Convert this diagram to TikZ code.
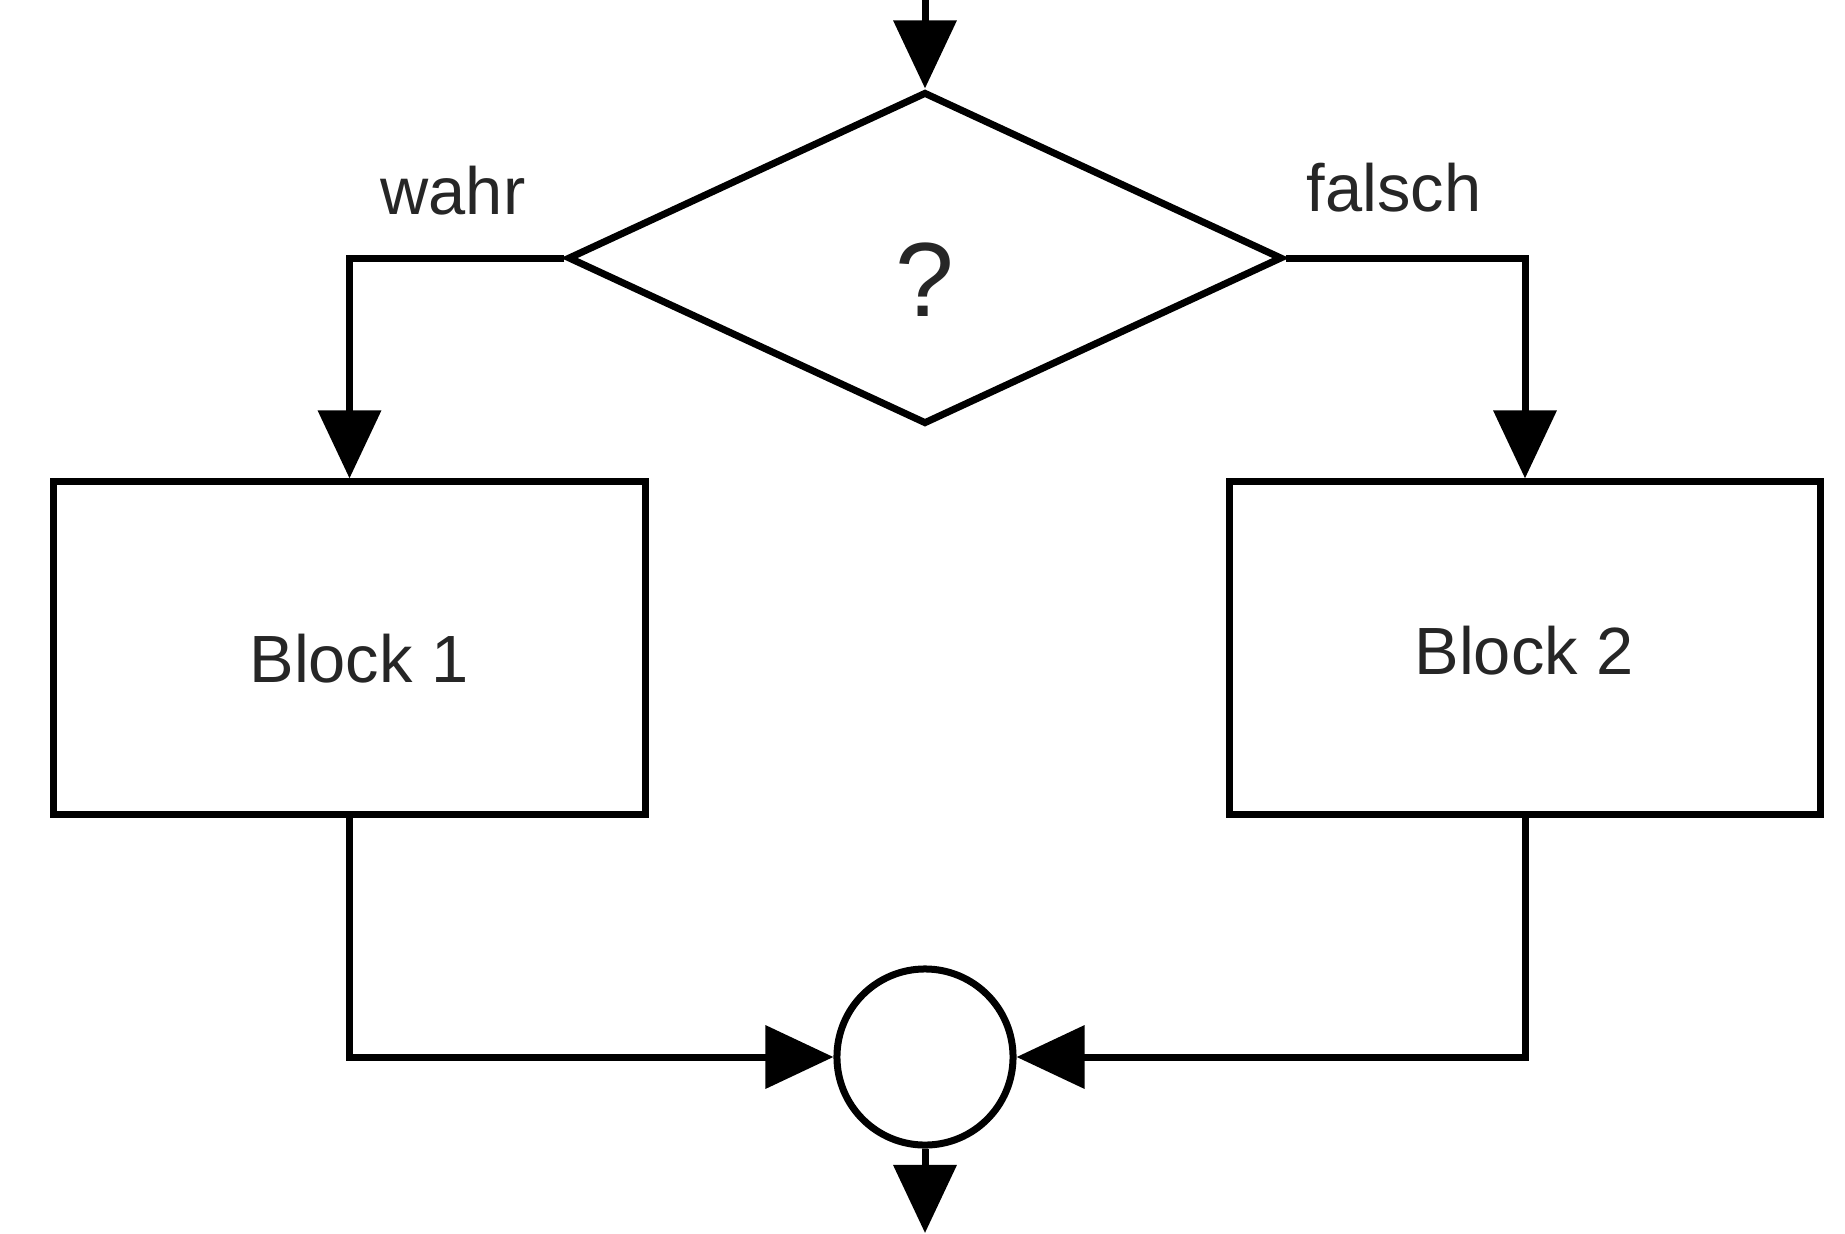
\documentclass[tikz,border=0pt]{standalone}
\usepackage{fontspec}
\setmainfont{Liberation Sans}
\usetikzlibrary{shapes.geometric,arrows.meta}
\begin{document}
\begin{tikzpicture}[x=0.01cm,y=-0.01cm,
  line/.style={line width=0.07cm, line join=miter},
  arr/.style={line, -{Triangle[length=0.68cm,width=0.62cm]}},
  txt/.style={font=\fontsize{19}{23}\selectfont, text=black!85},
  blockbox/.style={draw, line width=0.07cm, minimum width=5.91cm, minimum height=3.32cm, inner sep=0pt, txt},
  decision/.style={draw, diamond, line width=0.07cm, minimum width=7.14cm, minimum height=3.32cm, inner sep=0pt},
  junction/.style={draw, circle, line width=0.07cm, minimum size=1.76cm, inner sep=0pt}
]
\useasboundingbox (0,0) rectangle (1845,1233);
\coordinate (top) at (925,0);
\coordinate (bot) at (925,1233);
\node[decision] (d) at (925,258) {};
\node[font=\fontsize{30}{34}\selectfont, text=black!85] (q) at (925,280) {?};
\node[blockbox] (b1) at (349.5,648) {};
\node[txt] (t1) at (359,659) {Block 1};
\node[blockbox] (b2) at (1525,648) {};
\node[txt] (t2) at (1524,651) {Block 2};
\node[junction] (c) at (925,1057) {};
\node[txt] (w) at (453,191) {wahr};
\node[txt] (f) at (1394,188) {falsch};
\draw[arr] (top) -- (d.north);
\draw[arr] (d.west) -| (b1.north);
\draw[arr] (d.east) -| (b2.north);
\draw[arr] (b1.south) |- (c.west);
\draw[arr] (b2.south) |- (c.east);
\draw[arr] (c.south) -- (bot);
\end{tikzpicture}
\end{document}
